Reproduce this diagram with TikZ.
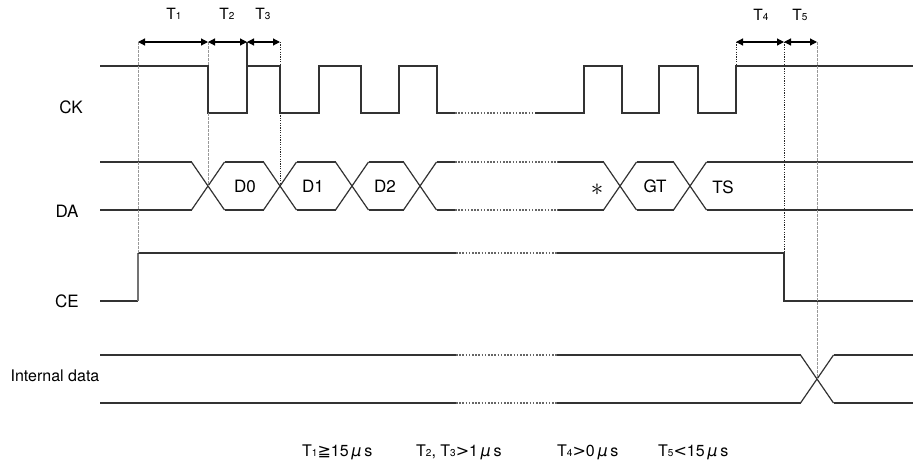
\documentclass[tikz,border=0pt]{standalone}
\usepackage{fontspec}
\setmainfont{TeX Gyre Heros}
\newfontfamily\symfont{DejaVu Sans}
\usetikzlibrary{arrows.meta}
\newcommand\tsub[1]{{\fontsize{10}{10}\selectfont #1}}
\begin{document}
\begin{tikzpicture}[x=1pt,y=-1pt,
  sig/.style={line width=1.2pt,draw=black!80},
  brk/.style={line width=1.1pt,draw=black!60,dash pattern=on 1.6pt off 1.6pt},
  guidegray/.style={line width=0.8pt,draw=black!40,dash pattern=on 2.5pt off 1.5pt},
  guidedark/.style={line width=0.9pt,draw=black!85,dash pattern=on 1.2pt off 1.2pt},
  dim/.style={line width=1.2pt,draw=black,{Triangle[length=7pt,width=7pt]}-{Triangle[length=7pt,width=7pt]}},
  lab/.style={font=\fontsize{17}{17}\selectfont,inner sep=0pt},
  tlab/.style={font=\fontsize{15.5}{15.5}\selectfont,inner sep=0pt},
  foot/.style={font=\fontsize{16}{16}\selectfont,inner sep=0pt,anchor=west}]
\useasboundingbox (0,0) rectangle (913,466);

% signal names
\node[lab] (ck) at (71,107) {CK};
\node[lab] (da) at (67,211) {DA};
\node[lab] (ce) at (67,301) {CE};
\node[lab,font=\fontsize{16}{16}\selectfont] (id) at (55,376) {Internal data};

% CK
\draw[sig] (100,66) -- (208,66) -- (208,113) -- (247,113) -- (247,42);
\draw[sig] (247,66) -- (280,66) -- (280,113) -- (319,113) -- (319,66) -- (361,66) -- (361,113) -- (399,113) -- (399,66) -- (437,66) -- (437,113) -- (455,113);
\draw[brk] (455,113) -- (535,113);
\draw[sig] (535,113) -- (584,113) -- (584,66) -- (622,66) -- (622,113) -- (659,113) -- (659,66) -- (698,66) -- (698,113) -- (736,113) -- (736,66) -- (913,66);

% DA bus
\foreach \c in {208,280,352,420,620,690}{
  \draw[sig] (\c-16.5,162) -- (\c+16.5,210);
  \draw[sig] (\c-16.5,210) -- (\c+16.5,162);
}
\foreach \a/\b in {100/191.5,224.5/263.5,296.5/335.5,368.5/403.5,436.5/455,558/603.5,636.5/673.5,706.5/913}{
  \draw[sig] (\a,162) -- (\b,162);
  \draw[sig] (\a,210) -- (\b,210);
}
\draw[brk] (455,162) -- (558,162);
\draw[brk] (455,210) -- (558,210);

\node[lab] (d0) at (245,186) {D0};
\node[lab] (d1) at (313,186) {D1};
\node[lab] (d2) at (385,186) {D2};
\node[lab] (gt) at (655,186) {GT};
\node[lab] (ts) at (723,187) {TS};
\node[inner sep=0pt,font=\fontsize{28}{28}\selectfont] (star) at (597,190) {$\ast$};

% CE
\draw[sig] (100,301) -- (138,301);
\draw[sig,draw=black!55] (138,301) -- (138,253);
\draw[sig] (138,253) -- (456,253);
\draw[brk] (456,253) -- (557,253);
\draw[sig] (557,253) -- (784,253) -- (784,301) -- (913,301);

% Internal data
\foreach \y in {355,403}{
  \draw[sig] (100,\y) -- (456,\y);
  \draw[brk] (456,\y) -- (557,\y);
  \draw[sig] (557,\y) -- (800.5,\y);
  \draw[sig] (833.5,\y) -- (913,\y);
}
\draw[sig] (800.5,355) -- (833.5,403);
\draw[sig] (800.5,403) -- (833.5,355);

% guide lines
\draw[guidegray] (138,42) -- (138,253);
\draw[guidegray] (208,42) -- (208,66);
\draw[guidegray] (208,113) -- (208,186);
\draw[guidedark] (280,42) -- (280,66);
\draw[guidedark] (280,113) -- (280,186);
\draw[guidedark] (736,42) -- (736,66);
\draw[guidedark] (784,42) -- (784,253);
\draw[guidegray] (817,42) -- (817,379);

% dimension arrows
\coordinate (p1) at (138,42);
\coordinate (p2) at (208,42);
\coordinate (p3) at (247,42);
\coordinate (p4) at (280,42);
\coordinate (p5) at (736,42);
\coordinate (p6) at (784,42);
\coordinate (p7) at (817,42);
\draw[dim] (p1) -- (p2);
\draw[dim] (p2) -- (p3);
\draw[dim] (p3) -- (p4);
\draw[dim] (p5) -- (p6);
\draw[dim] (p6) -- (p7);

\node[tlab] (t1) at (174,14) {T\tsub{1}};
\node[tlab] (t2) at (227,14) {T\tsub{2}};
\node[tlab] (t3) at (263,14) {T\tsub{3}};
\node[tlab] (t4) at (761,15) {T\tsub{4}};
\node[tlab] (t5) at (800,15) {T\tsub{5}};

% footer
\node[foot] (f1) at (302,452) {T\tsub{1}{\symfont ≧}15\,{\symfont\itshape μ}\,s};
\node[foot] (f2) at (416,452) {T\tsub{2}, T\tsub{3}{\symfont >}1\,{\symfont\itshape μ}\,s};
\node[foot] (f3) at (557,452) {T\tsub{4}{\symfont >}0\,{\symfont\itshape μ}\,s};
\node[foot] (f4) at (658,452) {T\tsub{5}{\symfont <}15\,{\symfont\itshape μ}\,s};
\end{tikzpicture}
\end{document}
